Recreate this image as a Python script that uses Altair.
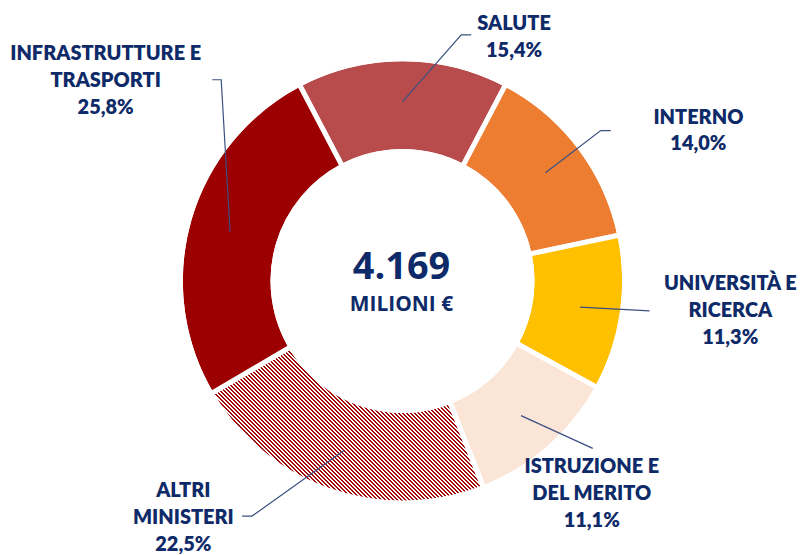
import math
import altair as alt
import pandas as pd

# ---------------- data ----------------
keys = ["Salute", "Interno", "Universita", "Istruzione", "Altri", "Infrastrutture"]
names = ["SALUTE", "INTERNO", "UNIVERSITÀ E\nRICERCA", "ISTRUZIONE E\nDEL MERITO",
         "ALTRI\nMINISTERI", "INFRASTRUTTURE E\nTRASPORTI"]
shares = [15.4, 14.0, 11.3, 11.1, 22.5, 25.8]
total_label = "4.169"
unit_label = "MILIONI €"

# ---------------- styles / layout ----------------
colors = ["#B84C4C", "#ED7D31", "#FFC000", "#FBE5D6", "rgba(255,255,255,0)", "#9C0000"]
HATCH_RED = "#A30808"
NAVY = "#0E2A68"
LINE = "#3A5080"
W, H = 792, 546
R_OUT, R_IN = 223, 130
GAP = 5
ANCHOR_R = 180
STRIPE_PX = 4.0  # horizontal period of the hatch, in pixels

label_x = [112, 297, 329, 190, -220, -298]
label_y = [-258, -164, 3, 187, 211, -228]   # first line of each label
elbow = [(59, -247), (199, -151), (248, 30), (191, 168), (-151, 236), (-182, -202)]
end = [(69, -247), (209, -151), (248, 30), (191, 168), (-161, 236), (-191, -202)]

# ---------------- tables ----------------
df = pd.DataFrame({"key": keys, "name": names, "share": shares, "order": list(range(len(keys)))})
total = df["share"].sum()
start = -math.pi * shares[0] / total
cum_end = df["share"].cumsum()
cum_start = cum_end - df["share"]
df["mid"] = start + 2 * math.pi * (cum_start + df["share"] / 2) / total
df["label"] = df["name"] + "\n" + df["share"].map(lambda v: f"{v:.1f}".replace(".", ",")) + "%"
df["lx"] = label_x
df["ly"] = label_y

rows = []
for i, r in df.iterrows():
    ax = ANCHOR_R * math.sin(r["mid"])
    ay = -ANCHOR_R * math.cos(r["mid"])
    for j, (px, py) in enumerate([(ax, ay), elbow[i], end[i]]):
        rows.append({"key": r["key"], "seq": j, "px": px, "py": py})
lead = pd.DataFrame(rows)

center = pd.DataFrame({"txt": [total_label, unit_label], "cx": [-1, -1], "cy": [-13, 24]})

xs = alt.Scale(domain=[-W / 2, W / 2], nice=False, zero=False)
ys = alt.Scale(domain=[-H / 2, H / 2], nice=False, zero=False, reverse=True)
theta_scale = alt.Scale(range=[start, start + 2 * math.pi])

# ---------------- hatch: striped rect behind the hatched slice ----------------
hi = keys.index("Altri")
a0 = start + 2 * math.pi * cum_start[hi] / total
a1 = start + 2 * math.pi * cum_end[hi] / total
pts = []
for rr in (R_IN, R_OUT):
    for a in (a0, a1):
        pts.append((rr * math.sin(a), -rr * math.cos(a)))
k = math.ceil(a0 / (math.pi / 2))
while k * math.pi / 2 <= a1:
    a = k * math.pi / 2
    pts.append((R_OUT * math.sin(a), -R_OUT * math.cos(a)))
    k += 1
bx0 = math.floor(min(p[0] for p in pts)) - 4
bx1 = math.ceil(max(p[0] for p in pts)) + 4
by0 = math.floor(min(p[1] for p in pts)) - 4
by1 = math.ceil(max(p[1] for p in pts)) + 4
bw, bh = bx1 - bx0, by1 - by0
kk = bh / bw / 2
span = (bw * bw + bh * bh) / bw
N = span / STRIPE_PX
stops = []
j = 0
while j / N < 1:
    a, b, c = j / N, min((j + 0.5) / N, 1), min((j + 1) / N, 1)
    stops += [{"offset": a, "color": HATCH_RED}, {"offset": b, "color": HATCH_RED},
              {"offset": b, "color": "#FFFFFF"}, {"offset": c, "color": "#FFFFFF"}]
    j += 1
grad = {"gradient": "linear", "stops": stops,
        "x1": 0, "y1": 0.5 + kk, "x2": 1, "y2": 0.5 - kk}
hatch_box = pd.DataFrame({"x0": [bx0], "x1": [bx1], "y0": [by0], "y1": [by1]})

hatch = alt.Chart(hatch_box).mark_rect(fill=grad).encode(
    x=alt.X("x0:Q", scale=xs, axis=None), x2="x1:Q",
    y=alt.Y("y0:Q", scale=ys, axis=None), y2="y1:Q",
)

base = alt.Chart(df)

arcs = base.mark_arc(innerRadius=R_IN, outerRadius=R_OUT, stroke="white", strokeWidth=GAP).encode(
    theta=alt.Theta("share:Q", stack=True, scale=theta_scale),
    color=alt.Color("key:N", scale=alt.Scale(domain=keys, range=colors), legend=None),
    order=alt.Order("order:Q"),
)

# white masks: outside the ring and inside the hole
mask_out = base.transform_filter("datum.order == 0").mark_arc(
    theta=0, theta2=2 * math.pi, innerRadius=R_OUT - GAP / 2, outerRadius=420, fill="white"
).encode(opacity=alt.value(1))
mask_in = base.transform_filter("datum.order == 0").mark_arc(
    theta=0, theta2=2 * math.pi, innerRadius=0, outerRadius=R_IN + GAP / 2, fill="white"
).encode(opacity=alt.value(1))

leaders = alt.Chart(lead).mark_line(color=LINE, strokeWidth=1.2).encode(
    x=alt.X("px:Q", scale=xs, axis=None),
    y=alt.Y("py:Q", scale=ys, axis=None),
    detail="key:N",
    order="seq:Q",
)

labels = base.mark_text(font="Lato", fontSize=20, fontWeight=800, color=NAVY,
                        lineBreak="\n", lineHeight=27, align="center", baseline="middle").encode(
    x=alt.X("lx:Q", scale=xs, axis=None),
    y=alt.Y("ly:Q", scale=ys, axis=None),
    text="label:N",
)

big = alt.Chart(center.iloc[[0]]).mark_text(font="Open Sans", fontSize=38, fontWeight="bold", color=NAVY,
                                             align="center", baseline="middle").encode(
    x=alt.X("cx:Q", scale=xs, axis=None), y=alt.Y("cy:Q", scale=ys, axis=None), text="txt:N")
small = alt.Chart(center.iloc[[1]]).mark_text(font="Open Sans", fontSize=21, fontWeight="bold", color=NAVY,
                                               align="center", baseline="middle").encode(
    x=alt.X("cx:Q", scale=xs, axis=None), y=alt.Y("cy:Q", scale=ys, axis=None), text="txt:N")

chart = alt.layer(hatch, arcs, mask_out, mask_in, leaders, labels, big, small).properties(
    width=W, height=H, autosize="none", padding=0
).configure_view(stroke=None)

chart.save("out.html", embed_options={"renderer": "svg", "actions": False})
